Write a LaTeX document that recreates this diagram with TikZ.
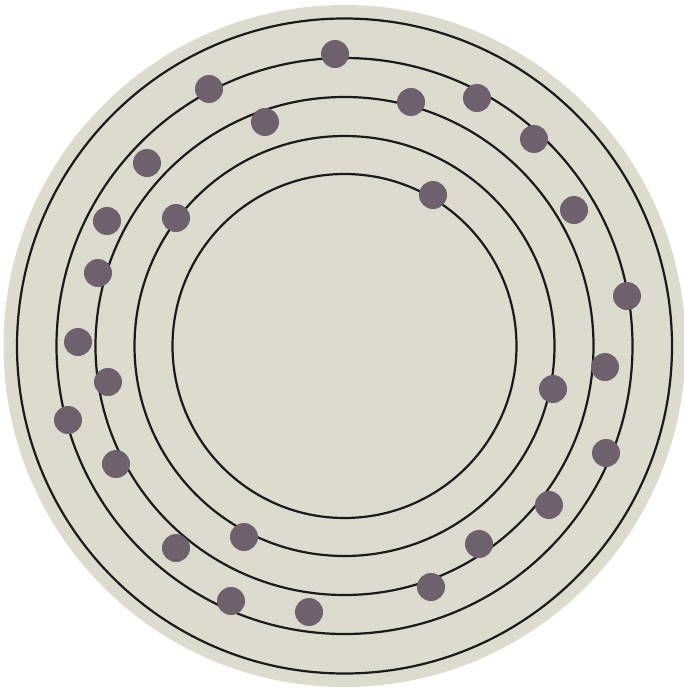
\documentclass[tikz,border=0pt]{standalone}
\definecolor{discbg}{HTML}{DCDBCE}
\definecolor{dotfill}{HTML}{6E606D}
\definecolor{ringline}{HTML}{1A1A1A}
\begin{document}
\begin{tikzpicture}[
      x=1pt, y=-1pt,
      ring/.style={draw=ringline, line width=2.2pt},
      pebble/.style={circle, fill=dotfill, inner sep=0pt, minimum size=28pt},
    ]
    \useasboundingbox (0,0) rectangle (683,688);
    \coordinate (c) at (344.5,346);
    \fill[discbg] (c) circle[radius=341];

    \foreach \r in {327.5, 288, 249, 210, 172} \draw[ring] (c) circle[radius=\r];

    \foreach \px/\py [count=\i] in {335/54, 209/89, 265/122, 411/102, 477/98,
        534/139, 147/163, 107/221, 176/218, 433/195, 574/210, 98/273, 627/296,
        78/342, 108/382, 605/367, 553/389, 68/420, 116/464, 606/453, 549/505,
        244/537, 176/548, 479/544, 431/587, 231/601, 309/612}
      \node[pebble] (p\i) at (\px,\py) {};
  \end{tikzpicture}
\end{document}
